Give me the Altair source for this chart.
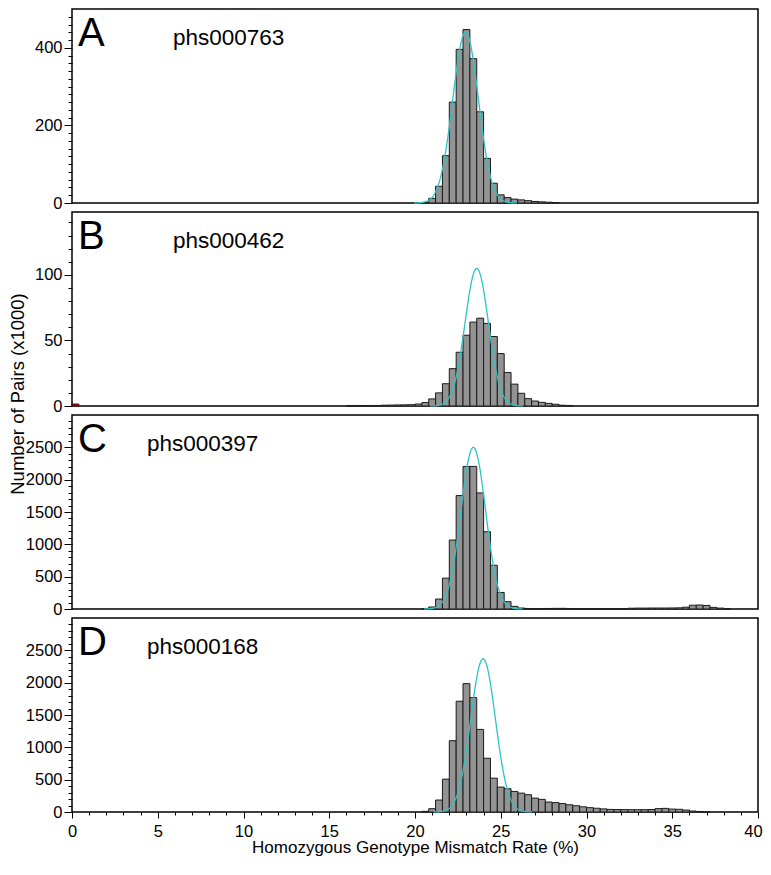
import altair as alt
import pandas as pd

FONT = "Liberation Sans"
BIN_W = 0.4

# ---------------- data ----------------
study_ids = ["phs000763", "phs000462", "phs000397", "phs000168"]
panel_letters = ["A", "B", "C", "D"]

a_left = [20.4, 20.8, 21.2, 21.6, 22.0, 22.4, 22.8, 23.2, 23.6, 24.0, 24.4, 24.8,
          25.2, 25.6, 26.0, 26.4, 26.8, 27.2, 27.6, 28.0]
a_count = [1, 12, 43, 122, 260, 396, 447, 372, 235, 115, 51, 21,
           14, 10, 8, 6, 4, 3, 2, 1]

b_left = [16.0, 16.4, 16.8, 17.2, 17.6, 18.0, 18.4, 18.8, 19.2, 19.6, 20.0, 20.4,
          20.8, 21.2, 21.6, 22.0, 22.4, 22.8, 23.2, 23.6, 24.0, 24.4, 24.8, 25.2,
          25.6, 26.0, 26.4, 26.8, 27.2, 27.6, 28.0, 28.4, 28.8]
b_count = [0.3, 0.3, 0.3, 0.3, 0.3, 0.6, 0.7, 0.8, 0.9, 1.0, 1.5, 2.6,
           5.4, 10, 17, 28.5, 41, 54, 64, 67, 63, 53, 40, 25.6,
           16.7, 9.7, 5.6, 3.8, 2.8, 2.0, 1.3, 0.6, 0.4]

c_left = [20.4, 20.8, 21.2, 21.6, 22.0, 22.4, 22.8, 23.2, 23.6, 24.0, 24.4, 24.8,
          25.2, 25.6, 26.0, 26.4, 26.8, 27.2, 27.6, 28.0, 28.4, 28.8, 29.2, 29.6,
          30.0, 30.4, 30.8, 31.2, 31.6, 32.0, 32.4, 32.8, 33.2, 33.6, 34.0, 34.4,
          34.8, 35.2, 35.6, 36.0, 36.4, 36.8, 37.2, 37.6, 38.0]
c_count = [5, 31, 154, 477, 1067, 1754, 2205, 2205, 1795, 1195, 677, 256,
           113, 41, 15, 8, 6, 6, 8, 10, 10, 8, 5, 3,
           2, 2, 2, 2, 3, 5, 12, 14, 14, 15, 15, 15,
           16, 18, 28, 58, 62, 55, 25, 14, 6]

d_left = [20.4, 20.8, 21.2, 21.6, 22.0, 22.4, 22.8, 23.2, 23.6, 24.0, 24.4, 24.8,
          25.2, 25.6, 26.0, 26.4, 26.8, 27.2, 27.6, 28.0, 28.4, 28.8, 29.2, 29.6,
          30.0, 30.4, 30.8, 31.2, 31.6, 32.0, 32.4, 32.8, 33.2, 33.6, 34.0, 34.4,
          34.8, 35.2, 35.6, 36.0, 36.4, 36.8]
d_count = [10, 51, 185, 508, 1103, 1713, 1985, 1769, 1277, 831, 523, 385,
           359, 318, 292, 267, 215, 195, 154, 145, 130, 112, 97, 80,
           67, 58, 48, 40, 38, 37, 36, 36, 36, 38, 52, 56,
           45, 42, 30, 15, 8, 3]

# small bin at 0 % (panel B, dark red)
zero_left = [0.0]
zero_count_b = [1.5]

# fitted normal curves: mean, sd, peak height
fit_mean = [22.95, 23.6, 23.4, 23.97]
fit_sd = [0.75, 0.68, 0.72, 0.72]
fit_peak = [440, 105, 2500, 2370]

y_max = [500, 148, 3000, 3000]
y_major = [200, 50, 500, 500]
y_minor = [20, 10, 100, 100]
label_x = [101, 101, 75, 75]

# ---------------- chart ----------------
x_scale = alt.Scale(domain=[0, 40], nice=False, zero=False)


def x_axis(show):
    if not show:
        return None
    return alt.Axis(
        values=list(range(0, 41)),
        labelExpr="datum.value % 5 === 0 ? datum.label : ''",
        tickSize={"condition": {"test": "datum.value % 5 === 0", "value": 6}, "value": 3},
        labelOffset={"condition": {"test": "datum.value === 40", "value": -5}, "value": 0},
        format="d", labelOverlap=False, labelFlush=False,
        title="Homozygous Genotype Mismatch Rate (%)",
        titleFont=FONT, titleFontSize=17, titleFontWeight="normal", titleColor="black",
        titlePadding=0,
        labelFont=FONT, labelFontSize=16.5, labelColor="black", labelPadding=5,
        tickColor="black", tickWidth=1, grid=False, domain=False,
    )


def y_axis(ymax, major, minor):
    return alt.Axis(
        values=list(range(0, int(ymax), minor)),
        labelExpr=f"datum.value % {major} === 0 ? datum.label : ''",
        tickSize={"condition": {"test": f"datum.value % {major} === 0", "value": 8}, "value": 4},
        format="d", labelOverlap=False, labelFlush=False,
        title=None, labelFont=FONT, labelFontSize=16.5, labelColor="black", labelPadding=2,
        tickColor="black", tickWidth=1, grid=False, domain=False,
    )


def panel(i, lefts, counts, show_x, extra_zero=None, y_title=False):
    ys = alt.Scale(domain=[0, y_max[i]], nice=False, zero=True)
    xa = x_axis(show_x)
    ya = y_axis(y_max[i], y_major[i], y_minor[i])
    df = pd.DataFrame({"left": lefts, "count": counts})
    bars = alt.Chart(df).transform_calculate(
        right=f"datum.left + {BIN_W}"
    ).mark_rect(fill="#939393", stroke="#1a1a1a", strokeWidth=1).encode(
        x=alt.X("left:Q", scale=x_scale, axis=xa),
        x2="right:Q",
        y=alt.Y("count:Q", scale=ys, axis=ya),
        y2=alt.datum(0),
    )
    layers = [bars]
    if extra_zero is not None:
        zdf = pd.DataFrame({"left": zero_left, "count": extra_zero})
        layers.append(
            alt.Chart(zdf).transform_calculate(right=f"datum.left + {BIN_W}")
            .mark_rect(fill="#8b1a1a", stroke="#5a0000", strokeWidth=1)
            .encode(x=alt.X("left:Q", scale=x_scale, axis=xa), x2="right:Q",
                    y=alt.Y("count:Q", scale=ys, axis=ya), y2=alt.datum(0))
        )
    mu, sd, pk = fit_mean[i], fit_sd[i], fit_peak[i]
    curve = alt.Chart(alt.sequence(mu - 4 * sd, mu + 4 * sd, 0.02, as_="xv")).transform_calculate(
        yv=f"{pk} * exp(-0.5 * pow((datum.xv - {mu}) / {sd}, 2))"
    ).mark_line(color="#2ec4c6", strokeWidth=1.3).encode(
        x=alt.X("xv:Q", scale=x_scale, axis=xa),
        y=alt.Y("yv:Q", scale=ys, axis=ya),
    )
    layers.append(curve)
    letter = alt.Chart(pd.DataFrame({"t": [panel_letters[i]]})).mark_text(
        font=FONT, fontSize=40, align="left", baseline="top", color="black"
    ).encode(text="t:N", x=alt.value(6), y=alt.value(5))
    study = alt.Chart(pd.DataFrame({"t": [study_ids[i]]})).mark_text(
        font=FONT, fontSize=22.5, align="left", baseline="top", color="black"
    ).encode(text="t:N", x=alt.value(label_x[i]), y=alt.value(18))
    layers += [letter, study]
    if y_title:
        layers.append(
            alt.Chart(pd.DataFrame({"t": ["Number of Pairs (x1000)"]})).mark_text(
                font=FONT, fontSize=18.5, angle=270, align="center", baseline="middle", color="black"
            ).encode(text="t:N", x=alt.value(-54), y=alt.value(182))
        )
    return alt.layer(*layers).properties(width=686, height=194)


pA = panel(0, a_left, a_count, False)
pB = panel(1, b_left, b_count, False, extra_zero=zero_count_b, y_title=True)
pC = panel(2, c_left, c_count, False)
pD = panel(3, d_left, d_count, True)

chart = alt.vconcat(pA, pB, pC, pD, spacing=9, bounds="flush").properties(
    padding={"left": 0, "top": 0, "right": 0, "bottom": 2},
    background="white",
).configure_view(stroke="black", strokeWidth=1.5)

chart.save("out.html", embed_options={"renderer": "svg", "actions": False})
